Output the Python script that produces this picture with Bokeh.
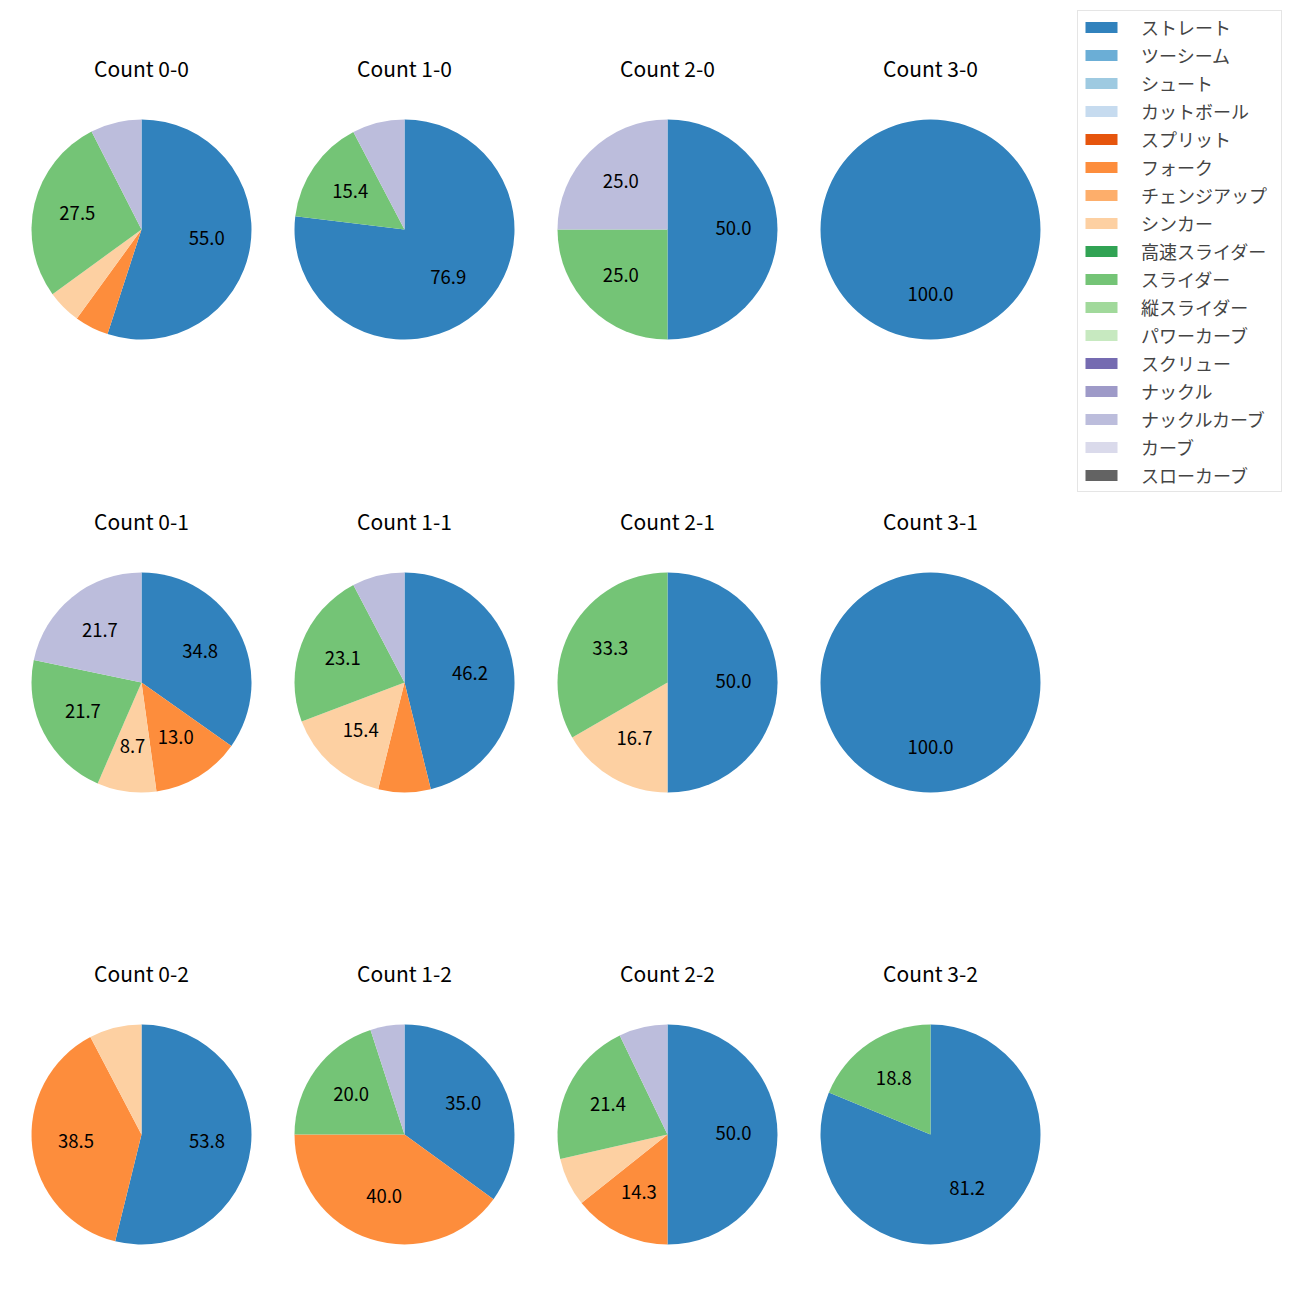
import numpy as np
from bokeh.plotting import figure
from bokeh.models import ColumnDataSource, Range1d, Legend, LegendItem
from bokeh.core.properties import value
from bokeh.embed import file_html
from bokeh.resources import INLINE

# ---- data ----
pitch_types = ["ストレート", "ツーシーム", "シュート", "カットボール", "スプリット", "フォーク",
               "チェンジアップ", "シンカー", "高速スライダー", "スライダー", "縦スライダー",
               "パワーカーブ", "スクリュー", "ナックル", "ナックルカーブ", "カーブ", "スローカーブ"]
colors = ["#3182bd", "#6baed6", "#9ecae1", "#c6dbef", "#e6550d", "#fd8d3c", "#fdae6b", "#fdd0a2",
          "#31a354", "#74c476", "#a1d99b", "#c7e9c0", "#756bb1", "#9e9ac8", "#bcbddc", "#dadaeb",
          "#636363"]

count_names = ["0-0", "1-0", "2-0", "3-0",
               "0-1", "1-1", "2-1", "3-1",
               "0-2", "1-2", "2-2", "3-2"]

#            St Tw Sh Ct Sp Fk Ch Si HS Sl VS PC Sc Kn KC Cv SC
count_0_0 = [22, 0, 0, 0, 0, 2, 0, 2, 0, 11, 0, 0, 0, 0, 3, 0, 0]
count_1_0 = [10, 0, 0, 0, 0, 0, 0, 0, 0, 2, 0, 0, 0, 0, 1, 0, 0]
count_2_0 = [2, 0, 0, 0, 0, 0, 0, 0, 0, 1, 0, 0, 0, 0, 1, 0, 0]
count_3_0 = [1, 0, 0, 0, 0, 0, 0, 0, 0, 0, 0, 0, 0, 0, 0, 0, 0]
count_0_1 = [8, 0, 0, 0, 0, 3, 0, 2, 0, 5, 0, 0, 0, 0, 5, 0, 0]
count_1_1 = [6, 0, 0, 0, 0, 1, 0, 2, 0, 3, 0, 0, 0, 0, 1, 0, 0]
count_2_1 = [3, 0, 0, 0, 0, 0, 0, 1, 0, 2, 0, 0, 0, 0, 0, 0, 0]
count_3_1 = [1, 0, 0, 0, 0, 0, 0, 0, 0, 0, 0, 0, 0, 0, 0, 0, 0]
count_0_2 = [7, 0, 0, 0, 0, 5, 0, 1, 0, 0, 0, 0, 0, 0, 0, 0, 0]
count_1_2 = [7, 0, 0, 0, 0, 8, 0, 0, 0, 4, 0, 0, 0, 0, 1, 0, 0]
count_2_2 = [7, 0, 0, 0, 0, 2, 0, 1, 0, 3, 0, 0, 0, 0, 1, 0, 0]
count_3_2 = [13, 0, 0, 0, 0, 0, 0, 0, 0, 3, 0, 0, 0, 0, 0, 0, 0]

all_counts = [count_0_0, count_1_0, count_2_0, count_3_0,
              count_0_1, count_1_1, count_2_1, count_3_1,
              count_0_2, count_1_2, count_2_2, count_3_2]

# ---- layout ----
W = H = 1300
col_x = [141, 404, 667, 930]
row_y = [H - 229, H - 682, H - 1134]
R = 110
FONT = "Noto Sans CJK JP"

p = figure(width=W, height=H, output_backend="svg", toolbar_location=None,
           x_range=Range1d(0, W), y_range=Range1d(0, H),
           x_axis_location=None, y_axis_location=None, min_border=0)
p.grid.visible = False
p.outline_line_color = None

wedges = {i: dict(x=[], y=[], start=[], end=[]) for i in range(len(pitch_types))}
lab = dict(x=[], y=[], text=[])
ttl = dict(x=[], y=[], text=[])

for k, (name, vals) in enumerate(zip(count_names, all_counts)):
    cx = col_x[k % 4]
    cy = row_y[k // 4]
    vals = np.array(vals, dtype=float)
    frac = vals / vals.sum()
    cum = 0.0
    for i, f in enumerate(frac):
        if f <= 0:
            continue
        a0 = np.pi / 2 - 2 * np.pi * (cum + f)
        a1 = np.pi / 2 - 2 * np.pi * cum
        if f >= 0.99999:
            a0 = a0 + 1e-4
        wedges[i]["x"].append(cx)
        wedges[i]["y"].append(cy)
        wedges[i]["start"].append(a0)
        wedges[i]["end"].append(a1)
        pct = f * 100
        if pct >= 8:
            mid = (a0 + a1) / 2
            lab["x"].append(cx + 0.6 * R * np.cos(mid))
            lab["y"].append(cy + 0.6 * R * np.sin(mid) + 1.5)
            lab["text"].append(f"{pct:.1f}")
        cum += f
    ttl["x"].append(cx)
    ttl["y"].append(cy + 162)
    ttl["text"].append(f"Count {name}")

items = []
for i, pt in enumerate(pitch_types):
    p.wedge(x="x", y="y", radius=R, start_angle="start", end_angle="end",
            source=ColumnDataSource(wedges[i]), fill_color=colors[i], line_color=None)
    # legend swatch renderer (no visible mark in the plot area)
    sw = p.rect(x=[np.nan], y=[np.nan], width=1, height=1,
                fill_color=colors[i], line_color=None)
    items.append(LegendItem(label=pt, renderers=[sw]))

p.text(x="x", y="y", text="text", source=ColumnDataSource(lab),
       text_font=value(FONT), text_font_size="18.5px", text_color="black",
       text_align="center", text_baseline="middle")
p.text(x="x", y="y", text="text", source=ColumnDataSource(ttl),
       text_font=value(FONT), text_font_size="21px", text_color="black",
       text_align="center", text_baseline="alphabetic")

legend = Legend(items=items, location=(1077, H - 492),
                glyph_width=40, glyph_height=14, label_height=14, spacing=2,
                padding=3, label_standoff=20, label_width=137, margin=0,
                label_text_font=FONT, label_text_font_size="18px",
                border_line_color="#cccccc", border_line_width=1,
                background_fill_color="white", background_fill_alpha=0.8)
p.add_layout(legend)

open("out.html", "w").write(file_html(p, INLINE))
